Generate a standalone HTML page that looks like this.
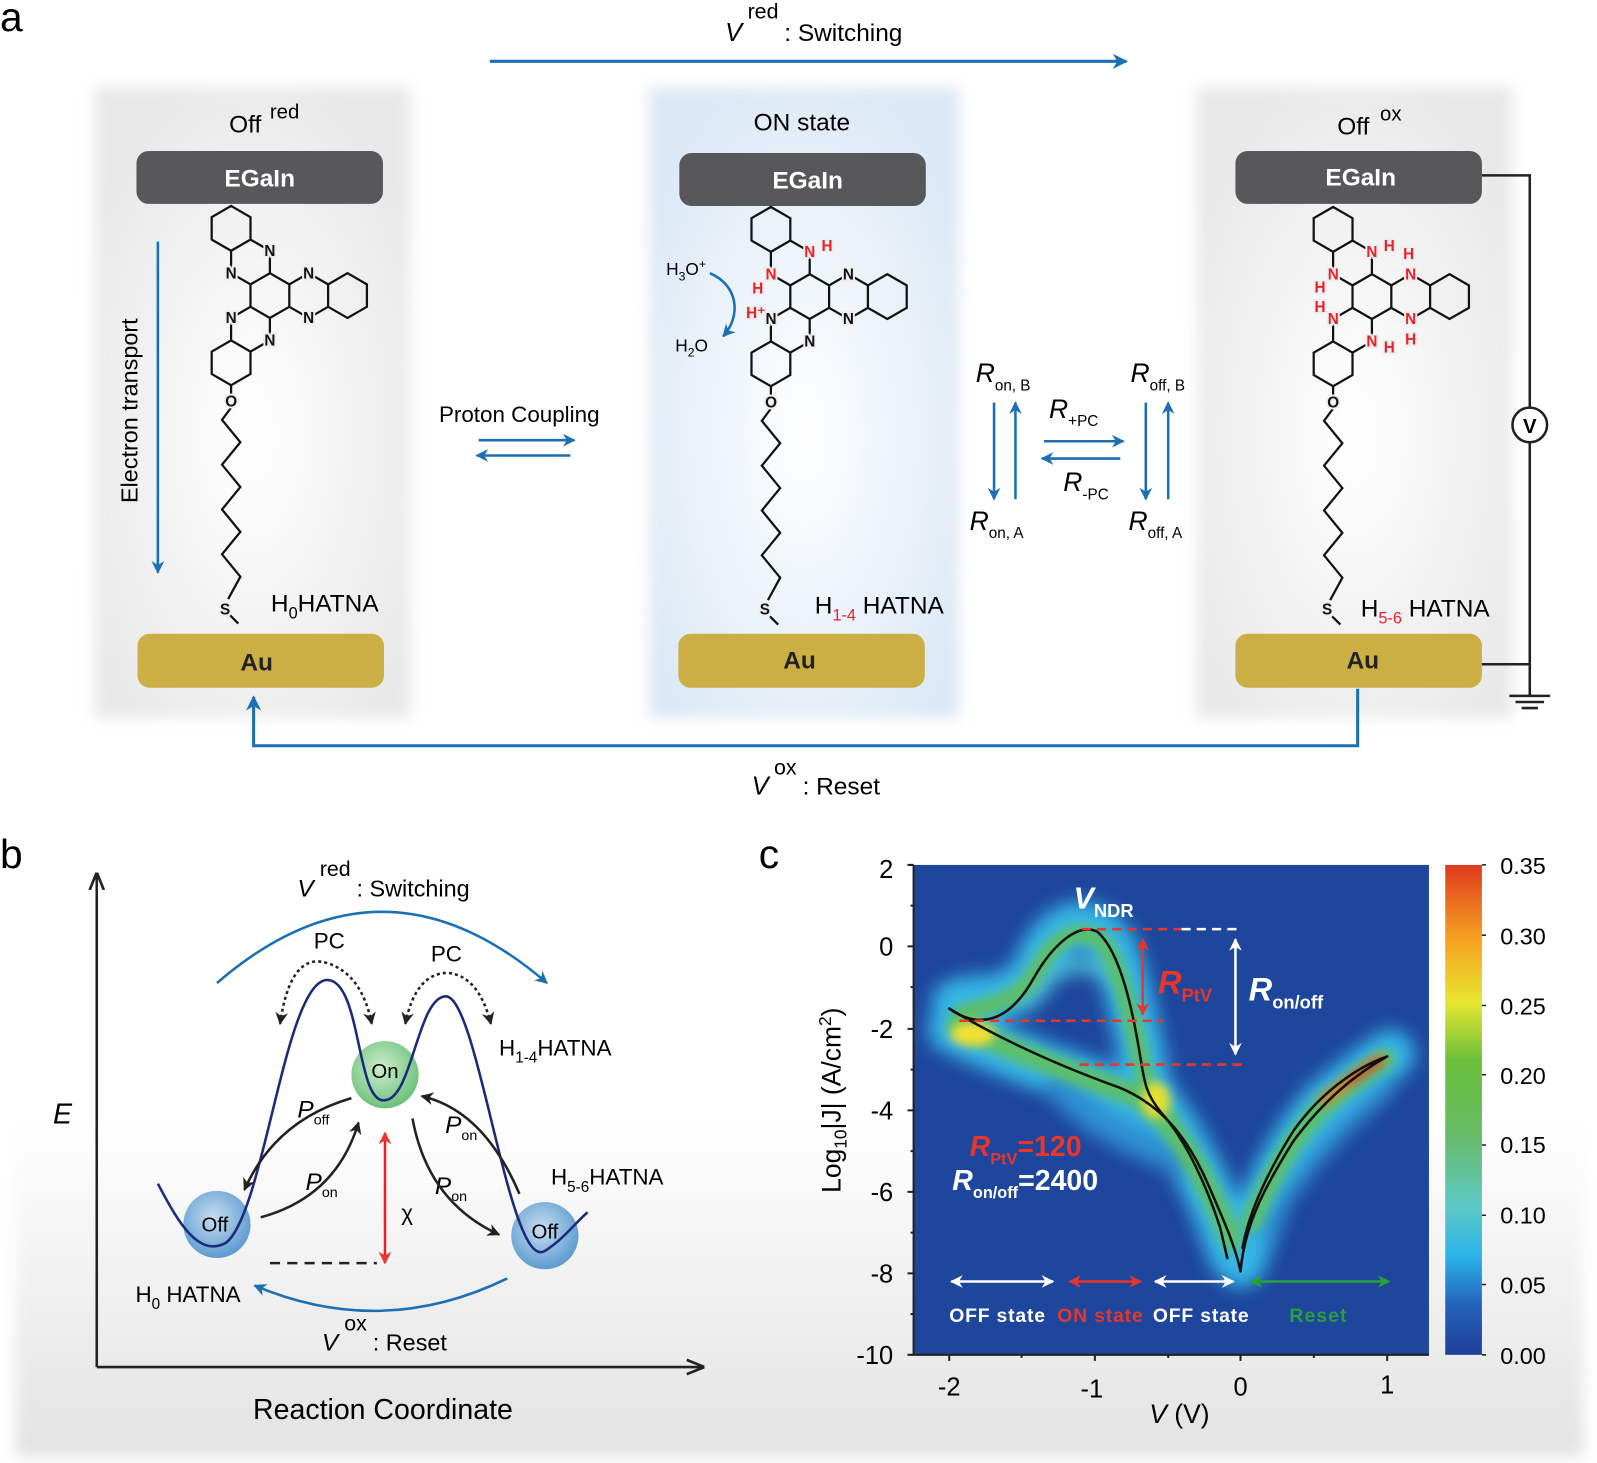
<!DOCTYPE html>
<html><head><meta charset="utf-8"><style>
html,body{margin:0;padding:0;background:#fff}
svg{display:block}
text{font-family:"Liberation Sans",Arial,sans-serif}
</style></head><body>
<svg width="1597" height="1463" viewBox="0 0 1568 1436" xmlns="http://www.w3.org/2000/svg">
<defs>
<filter id="soft" x="-10%" y="-10%" width="120%" height="120%"><feGaussianBlur stdDeviation="7"/></filter>
<filter id="hb" x="-20%" y="-20%" width="140%" height="140%"><feGaussianBlur stdDeviation="9"/></filter>
<filter id="hb2" x="-20%" y="-20%" width="140%" height="140%"><feGaussianBlur stdDeviation="5"/></filter>
<radialGradient id="gpan" cx="50%" cy="55%" r="60%"><stop offset="0" stop-color="#ffffff"/><stop offset="1" stop-color="#e8e8e8"/></radialGradient>
<radialGradient id="bpan" cx="50%" cy="55%" r="60%"><stop offset="0" stop-color="#ffffff"/><stop offset="1" stop-color="#dbe8f5"/></radialGradient>
<linearGradient id="bottomg" x1="0" y1="0" x2="0" y2="1"><stop offset="0" stop-color="#fff"/><stop offset="0.45" stop-color="#fff"/><stop offset="1" stop-color="#e2e2e2"/></linearGradient>
<linearGradient id="cbar" x1="0" y1="1" x2="0" y2="0">
<stop offset="0" stop-color="#1f3f99"/><stop offset="0.1" stop-color="#2462b8"/><stop offset="0.2" stop-color="#2ab3e8"/><stop offset="0.3" stop-color="#5cc8c8"/><stop offset="0.45" stop-color="#66bb66"/><stop offset="0.6" stop-color="#6abf3a"/><stop offset="0.72" stop-color="#e6e630"/><stop offset="0.85" stop-color="#f5a020"/><stop offset="1" stop-color="#e03a1e"/></linearGradient>
<radialGradient id="gOff" cx="45%" cy="40%" r="60%"><stop offset="0" stop-color="#c7ddf0"/><stop offset="1" stop-color="#5d9bd0"/></radialGradient>
<radialGradient id="gOn" cx="45%" cy="40%" r="60%"><stop offset="0" stop-color="#cdeccd"/><stop offset="1" stop-color="#6cc27a"/></radialGradient>
<marker id="ab" viewBox="0 0 10 10" refX="9" refY="5" markerWidth="5" markerHeight="5" orient="auto-start-reverse"><path d="M0,0 L10,5 L0,10 L3,5z" fill="#1a6fb5"/></marker>
<marker id="ak" viewBox="0 0 10 10" refX="9" refY="5" markerWidth="5" markerHeight="5" orient="auto-start-reverse"><path d="M0,0 L10,5 L0,10 L3,5z" fill="#222"/></marker>
<marker id="ar" viewBox="0 0 10 10" refX="9" refY="5" markerWidth="5" markerHeight="5" orient="auto-start-reverse"><path d="M0,0 L10,5 L0,10 L3,5z" fill="#e8362a"/></marker>
<marker id="aw" viewBox="0 0 10 10" refX="9" refY="5" markerWidth="5" markerHeight="5" orient="auto-start-reverse"><path d="M0,0 L10,5 L0,10 L3,5z" fill="#fff"/></marker>
<marker id="ag" viewBox="0 0 10 10" refX="9" refY="5" markerWidth="5" markerHeight="5" orient="auto-start-reverse"><path d="M0,0 L10,5 L0,10 L3,5z" fill="#2aa03a"/></marker>
<marker id="ax" viewBox="0 0 10 10" refX="9" refY="5" markerWidth="7" markerHeight="7" orient="auto"><path d="M0,1 L10,5 L0,9" fill="none" stroke="#222" stroke-width="1.5"/></marker>
</defs>

<rect x="15" y="820" width="1540" height="610" fill="url(#bottomg)" filter="url(#soft)"/>

<!-- PANEL A -->
<text x="0" y="30" font-size="40">a</text>
<text x="712" y="40" font-size="25" font-style="italic">V</text>
<text x="734" y="18" font-size="21">red</text>
<text x="770" y="40" font-size="24">: Switching</text>
<line x1="481" y1="60" x2="1106" y2="60" stroke="#1a6fb5" stroke-width="3" marker-end="url(#ab)"/>

<rect x="93" y="85" width="310" height="620" fill="url(#gpan)" filter="url(#soft)"/>
<rect x="637" y="85" width="305" height="620" fill="url(#bpan)" filter="url(#soft)"/>
<rect x="1175" y="85" width="310" height="620" fill="url(#gpan)" filter="url(#soft)"/>

<text x="225" y="130" font-size="24">Off</text><text x="265" y="116" font-size="20">red</text>
<text x="740" y="128" font-size="24">ON state</text>
<text x="1313" y="132" font-size="24">Off</text><text x="1355" y="118" font-size="20">ox</text>

<g font-weight="bold" font-size="24" text-anchor="middle">
<rect x="134" y="148" width="242" height="52" rx="12" fill="#58585a"/><text x="255" y="183" fill="#fff">EGaIn</text>
<rect x="667" y="150" width="242" height="52" rx="12" fill="#58585a"/><text x="793" y="185" fill="#fff">EGaIn</text>
<rect x="1213" y="148" width="242" height="52" rx="12" fill="#58585a"/><text x="1336" y="182" fill="#fff">EGaIn</text>
<rect x="135" y="622" width="242" height="53" rx="12" fill="#cbaf45"/><text x="252" y="658" fill="#222">Au</text>
<rect x="666" y="622" width="242" height="53" rx="12" fill="#cbaf45"/><text x="785" y="656" fill="#222">Au</text>
<rect x="1213" y="622" width="242" height="53" rx="12" fill="#cbaf45"/><text x="1338" y="656" fill="#222">Au</text>
</g>

<g transform="translate(265,290)" fill="none" stroke="#111" stroke-width="2.2">
<path d="M19.05,-11 L0,-22 L-19.05,-11 L-19.05,11 L0,22 L19.05,11Z M0,-44 L-19.05,-55 L-38.1,-44 L-38.1,-22 L-19.05,-11 L0,-22Z M-19.05,-77 L-38.1,-88 L-57.15,-77 L-57.15,-55 L-38.1,-44 L-19.05,-55Z M57.15,-11 L38.1,-22 L19.05,-11 L19.05,11 L38.1,22 L57.15,11Z M95.25,-11 L76.2,-22 L57.15,-11 L57.15,11 L76.2,22 L95.25,11Z M0,22 L-19.05,11 L-38.1,22 L-38.1,44 L-19.05,55 L0,44Z M-19.05,55 L-38.1,44 L-57.15,55 L-57.15,77 L-38.1,88 L-19.05,77Z M-38.1,88 L-38.1,98 M-38.1,110 L-47,122 L-29,144 L-47,166 L-29,188 L-47,210 L-29,232 L-47,254 L-29,276 L-41,298 M-39,314 L-31,322"/>
</g>
<g transform="translate(795,291)" fill="none" stroke="#111" stroke-width="2.2">
<path d="M19.05,-11 L0,-22 L-19.05,-11 L-19.05,11 L0,22 L19.05,11Z M0,-44 L-19.05,-55 L-38.1,-44 L-38.1,-22 L-19.05,-11 L0,-22Z M-19.05,-77 L-38.1,-88 L-57.15,-77 L-57.15,-55 L-38.1,-44 L-19.05,-55Z M57.15,-11 L38.1,-22 L19.05,-11 L19.05,11 L38.1,22 L57.15,11Z M95.25,-11 L76.2,-22 L57.15,-11 L57.15,11 L76.2,22 L95.25,11Z M0,22 L-19.05,11 L-38.1,22 L-38.1,44 L-19.05,55 L0,44Z M-19.05,55 L-38.1,44 L-57.15,55 L-57.15,77 L-38.1,88 L-19.05,77Z M-38.1,88 L-38.1,98 M-38.1,110 L-47,122 L-29,144 L-47,166 L-29,188 L-47,210 L-29,232 L-47,254 L-29,276 L-41,298 M-39,314 L-31,322"/>
</g>
<g transform="translate(1347,291)" fill="none" stroke="#111" stroke-width="2.2">
<path d="M19.05,-11 L0,-22 L-19.05,-11 L-19.05,11 L0,22 L19.05,11Z M0,-44 L-19.05,-55 L-38.1,-44 L-38.1,-22 L-19.05,-11 L0,-22Z M-19.05,-77 L-38.1,-88 L-57.15,-77 L-57.15,-55 L-38.1,-44 L-19.05,-55Z M57.15,-11 L38.1,-22 L19.05,-11 L19.05,11 L38.1,22 L57.15,11Z M95.25,-11 L76.2,-22 L57.15,-11 L57.15,11 L76.2,22 L95.25,11Z M0,22 L-19.05,11 L-38.1,22 L-38.1,44 L-19.05,55 L0,44Z M-19.05,55 L-38.1,44 L-57.15,55 L-57.15,77 L-38.1,88 L-19.05,77Z M-38.1,88 L-38.1,98 M-38.1,110 L-47,122 L-29,144 L-47,166 L-29,188 L-47,210 L-29,232 L-47,254 L-29,276 L-41,298 M-39,314 L-31,322"/>
</g>
<g font-size="15" font-weight="bold" text-anchor="middle" stroke="#eee" stroke-width="4" paint-order="stroke">
<text x="265" y="251" fill="#111">N</text><text x="227" y="273" fill="#111">N</text>
<text x="303" y="273" fill="#111">N</text><text x="303" y="317" fill="#111">N</text>
<text x="227" y="317" fill="#111">N</text><text x="265" y="339" fill="#111">N</text>
<text x="227" y="399" fill="#111">O</text><text x="221" y="603" fill="#111">S</text>

<text x="795" y="252" fill="#e8222a">N</text><text x="812" y="246" fill="#e8222a">H</text>
<text x="757" y="274" fill="#e8222a">N</text><text x="744" y="288" fill="#e8222a">H</text>
<text x="833" y="274" fill="#111">N</text><text x="833" y="318" fill="#111">N</text>
<text x="757" y="318" fill="#111">N</text><text x="742" y="312" fill="#e8222a">H⁺</text>
<text x="795" y="340" fill="#111">N</text>
<text x="757" y="400" fill="#111">O</text><text x="751" y="603" fill="#111">S</text>

<text x="1347" y="252" fill="#e8222a">N</text><text x="1364" y="246" fill="#e8222a">H</text>
<text x="1309" y="274" fill="#e8222a">N</text><text x="1296" y="287" fill="#e8222a">H</text>
<text x="1385" y="274" fill="#e8222a">N</text><text x="1383" y="254" fill="#e8222a">H</text>
<text x="1385" y="318" fill="#e8222a">N</text><text x="1385" y="338" fill="#e8222a">H</text>
<text x="1309" y="318" fill="#e8222a">N</text><text x="1296" y="306" fill="#e8222a">H</text>
<text x="1347" y="340" fill="#e8222a">N</text><text x="1364" y="346" fill="#e8222a">H</text>
<text x="1309" y="400" fill="#111">O</text><text x="1303" y="603" fill="#111">S</text>
</g>

<text x="135" y="403" font-size="23" text-anchor="middle" transform="rotate(-90 135 403)">Electron transport</text>
<line x1="155" y1="237" x2="155" y2="562" stroke="#1a6fb5" stroke-width="2.5" marker-end="url(#ab)"/>
<text x="266" y="600" font-size="24">H<tspan font-size="16" dy="7">0</tspan><tspan dy="-7">HATNA</tspan></text>
<text x="800" y="602" font-size="24">H<tspan font-size="16" dy="7" fill="#e8222a">1-4</tspan><tspan dy="-7"> HATNA</tspan></text>
<text x="1336" y="605" font-size="24">H<tspan font-size="16" dy="7" fill="#e8222a">5-6</tspan><tspan dy="-7"> HATNA</tspan></text>

<text x="431" y="414" font-size="22">Proton Coupling</text>
<line x1="470" y1="432" x2="564" y2="432" stroke="#1a6fb5" stroke-width="2.5" marker-end="url(#ab)"/>
<line x1="560" y1="447" x2="468" y2="447" stroke="#1a6fb5" stroke-width="2.5" marker-end="url(#ab)"/>

<text x="654" y="270" font-size="17">H<tspan font-size="12" dy="5">3</tspan><tspan dy="-5">O</tspan><tspan font-size="12" dy="-7">+</tspan></text>
<text x="663" y="345" font-size="17">H<tspan font-size="12" dy="5">2</tspan><tspan dy="-5">O</tspan></text>
<path d="M697,268 C725,280 728,310 710,330" fill="none" stroke="#1a6fb5" stroke-width="2.5" marker-end="url(#ab)"/>

<g font-size="26" font-style="italic">
<text x="958" y="375">R<tspan font-size="15" font-style="normal" dy="8">on, B</tspan></text>
<text x="952" y="520">R<tspan font-size="15" font-style="normal" dy="8">on, A</tspan></text>
<text x="1110" y="375">R<tspan font-size="15" font-style="normal" dy="8">off, B</tspan></text>
<text x="1108" y="520">R<tspan font-size="15" font-style="normal" dy="8">off, A</tspan></text>
<text x="1030" y="410">R<tspan font-size="15" font-style="normal" dy="8">+PC</tspan></text>
<text x="1044" y="482">R<tspan font-size="15" font-style="normal" dy="8">-PC</tspan></text>
</g>
<g stroke="#1a6fb5" stroke-width="2.5">
<line x1="976" y1="395" x2="976" y2="490" marker-end="url(#ab)"/>
<line x1="997" y1="490" x2="997" y2="395" marker-end="url(#ab)"/>
<line x1="1125" y1="395" x2="1125" y2="490" marker-end="url(#ab)"/>
<line x1="1147" y1="490" x2="1147" y2="395" marker-end="url(#ab)"/>
<line x1="1025" y1="433" x2="1103" y2="433" marker-end="url(#ab)"/>
<line x1="1100" y1="450" x2="1023" y2="450" marker-end="url(#ab)"/>
</g>

<path d="M1455,172 H1502 V652 H1455" fill="none" stroke="#222" stroke-width="2.5"/>
<circle cx="1502" cy="417" r="17" fill="#fff" stroke="#222" stroke-width="2.5"/>
<text x="1502" y="425" font-size="20" font-weight="bold" text-anchor="middle">V</text>
<path d="M1502,652 V683 M1482,683 H1522 M1488,689 H1516 M1494,695 H1510" stroke="#222" stroke-width="2.5" fill="none"/>

<path d="M1333,676 V732 H249 V684" fill="none" stroke="#1a6fb5" stroke-width="3" marker-end="url(#ab)"/>
<text x="738" y="780" font-size="25" font-style="italic">V</text>
<text x="760" y="760" font-size="21">ox</text>
<text x="788" y="780" font-size="24">: Reset</text>

<!-- PANEL B -->
<text x="0" y="852" font-size="40">b</text>
<path d="M95,1342 V858" stroke="#222" stroke-width="2.5" marker-end="url(#ax)"/>
<path d="M95,1342 H690" stroke="#222" stroke-width="2.5" marker-end="url(#ax)"/>
<text x="52" y="1103" font-size="28" font-style="italic">E</text>
<text x="376" y="1393" font-size="28" text-anchor="middle">Reaction Coordinate</text>

<path d="M213,965 Q375,825 537,965" fill="none" stroke="#1a6fb5" stroke-width="2.5" marker-end="url(#ab)"/>
<path d="M498,1255 Q375,1315 250,1262" fill="none" stroke="#1a6fb5" stroke-width="2.5" marker-end="url(#ab)"/>
<text x="292" y="880" font-size="24" font-style="italic">V</text><text x="314" y="860" font-size="21">red</text><text x="350" y="880" font-size="23">: Switching</text>
<text x="316" y="1326" font-size="24" font-style="italic">V</text><text x="338" y="1306" font-size="21">ox</text><text x="366" y="1326" font-size="23">: Reset</text>
<text x="308" y="931" font-size="22">PC</text><text x="423" y="944" font-size="22">PC</text>
<g fill="none" stroke="#222" stroke-width="2.5" stroke-dasharray="3,3">
<path d="M275,1005 Q285,935 320,945 Q355,955 365,1005" marker-end="url(#ak)" marker-start="url(#ak)"/>
<path d="M398,1005 Q408,955 440,955 Q470,958 482,1005" marker-end="url(#ak)" marker-start="url(#ak)"/>
</g>

<circle cx="213" cy="1202" r="33" fill="url(#gOff)"/>
<circle cx="378" cy="1055" r="33" fill="url(#gOn)"/>
<circle cx="535" cy="1213" r="33" fill="url(#gOff)"/>
<path d="M155,1162 C175,1200 195,1235 222,1220 C260,1190 280,960 322,962 C355,964 350,1085 378,1080 C405,1078 410,978 438,978 C470,980 500,1250 535,1228 C555,1215 565,1200 577,1190" fill="none" stroke="#1c2a7a" stroke-width="2.5"/>
<g font-size="20" text-anchor="middle"><text x="211" y="1209">Off</text><text x="378" y="1058">On</text><text x="535" y="1216">Off</text></g>

<text x="490" y="1036" font-size="22">H<tspan font-size="15" dy="7">1-4</tspan><tspan dy="-7">HATNA</tspan></text>
<text x="541" y="1163" font-size="22">H<tspan font-size="15" dy="7">5-6</tspan><tspan dy="-7">HATNA</tspan></text>
<text x="133" y="1278" font-size="22">H<tspan font-size="15" dy="7">0</tspan><tspan dy="-7"> HATNA</tspan></text>
<g font-size="24" font-style="italic">
<text x="292" y="1097">P<tspan font-size="14" font-style="normal" dy="7">off</tspan></text>
<text x="300" y="1168">P<tspan font-size="14" font-style="normal" dy="7">on</tspan></text>
<text x="437" y="1112">P<tspan font-size="14" font-style="normal" dy="7">on</tspan></text>
<text x="427" y="1172">P<tspan font-size="14" font-style="normal" dy="7">on</tspan></text>
</g>
<text x="394" y="1198" font-size="22">χ</text>
<g fill="none" stroke="#222" stroke-width="2.5">
<path d="M345,1078 Q270,1100 240,1168" marker-end="url(#ak)"/>
<path d="M256,1195 Q330,1175 352,1102" marker-end="url(#ak)"/>
<path d="M510,1172 Q475,1090 414,1076" marker-end="url(#ak)"/>
<path d="M405,1098 Q420,1180 490,1212" marker-end="url(#ak)"/>
</g>
<line x1="265" y1="1240" x2="370" y2="1240" stroke="#222" stroke-width="2.5" stroke-dasharray="10,7"/>
<line x1="378" y1="1112" x2="378" y2="1240" stroke="#e8222a" stroke-width="2.5" marker-start="url(#ar)" marker-end="url(#ar)"/>

<!-- PANEL C -->
<text x="745" y="852" font-size="40">c</text>
<rect x="897" y="849" width="506" height="481" fill="#1e469c"/>
<svg x="897" y="849" width="506" height="481" viewBox="897 849 506 481" overflow="hidden">
<g fill="none" stroke-linecap="round" stroke-linejoin="round">
<g filter="url(#hb)" stroke="#36b6e6">
<path d="M938,985 C960,975 990,990 1015,955 C1035,905 1065,895 1090,925 C1110,960 1120,1040 1130,1075 C1160,1110 1190,1170 1215,1235" stroke-width="46"/>
<path d="M935,1010 C1000,1040 1060,1060 1120,1080 C1160,1110 1185,1160 1210,1230" stroke-width="48"/>
<path d="M1218,1240 C1235,1190 1260,1130 1300,1085 C1330,1060 1350,1045 1365,1035" stroke-width="48"/>
<path d="M1010,985 C1030,950 1060,935 1090,960" stroke-width="14" stroke="#4cc0d8"/>
<path d="M1040,1065 C1080,1110 1120,1120 1160,1140" stroke-width="30" stroke="#2f8fd0"/>
<path d="M1240,1210 C1270,1160 1300,1120 1360,1070" stroke-width="16" stroke="#2f8fd0"/>
</g>
<g filter="url(#hb2)" stroke="#5cbf6a">
<path d="M945,995 C975,985 995,985 1015,958 C1035,918 1062,905 1085,928 C1105,960 1118,1030 1128,1075 C1160,1110 1185,1160 1210,1220" stroke-width="18"/>
<path d="M940,1005 C1000,1035 1060,1055 1120,1078 C1160,1110 1185,1160 1208,1215" stroke-width="22"/>
<path d="M1228,1200 C1250,1150 1270,1115 1300,1085 C1330,1060 1348,1048 1360,1040" stroke-width="20"/>
</g>
<g filter="url(#hb2)">
<ellipse cx="955" cy="1015" rx="22" ry="12" fill="#f2e030" stroke="none"/>
<ellipse cx="1135" cy="1080" rx="14" ry="18" fill="#e6e030" stroke="none"/>
<path d="M1300,1080 C1320,1065 1335,1052 1355,1040" stroke="#f07a20" stroke-width="10"/>
<path d="M1325,1062 C1335,1055 1345,1048 1355,1042" stroke="#e02a1a" stroke-width="6"/>
</g>
<path d="M932,990 C960,1010 990,1005 1015,960 C1035,925 1060,905 1078,915 C1100,935 1112,990 1120,1040 C1124,1065 1126,1075 1140,1092 C1165,1120 1185,1165 1198,1205 L1205,1235" stroke="#111" stroke-width="2.5"/>
<path d="M932,990 C990,1025 1050,1050 1100,1068 C1140,1085 1165,1115 1185,1160 C1200,1195 1212,1220 1218,1248" stroke="#111" stroke-width="2.5"/>
<path d="M1218,1248 C1222,1200 1245,1160 1270,1120 C1300,1080 1330,1055 1362,1037 C1330,1048 1295,1075 1270,1110 C1245,1150 1226,1190 1220,1225" stroke="#111" stroke-width="2.5"/>
</g>
</svg>
<g stroke-width="2.5" stroke-dasharray="9,6" fill="none">
<line x1="1062" y1="912" x2="1160" y2="912" stroke="#e8362a"/>
<line x1="1160" y1="912" x2="1220" y2="912" stroke="#fff"/>
<line x1="942" y1="1002" x2="1142" y2="1002" stroke="#e8362a"/>
<line x1="1060" y1="1045" x2="1222" y2="1045" stroke="#e8362a"/>
</g>
<line x1="1122" y1="922" x2="1122" y2="996" stroke="#e8362a" stroke-width="2.5" marker-start="url(#ar)" marker-end="url(#ar)"/>
<line x1="1213" y1="922" x2="1213" y2="1035" stroke="#fff" stroke-width="2.5" marker-start="url(#aw)" marker-end="url(#aw)"/>
<text x="1054" y="892" font-size="30" font-style="italic" font-weight="bold" fill="#fff">V<tspan font-size="18" font-style="normal" dy="8">NDR</tspan></text>
<text x="1137" y="975" font-size="32" font-style="italic" font-weight="bold" fill="#e8362a">R<tspan font-size="18" font-style="normal" dy="8">PtV</tspan></text>
<text x="1226" y="982" font-size="32" font-style="italic" font-weight="bold" fill="#fff">R<tspan font-size="18" font-style="normal" dy="8">on/off</tspan></text>
<text x="952" y="1135" font-size="28" font-style="italic" font-weight="bold" fill="#e8362a">R<tspan font-size="16" font-style="normal" dy="8">PtV</tspan><tspan font-style="normal" dy="-8">=120</tspan></text>
<text x="935" y="1168" font-size="28" font-style="italic" font-weight="bold" fill="#fff">R<tspan font-size="16" font-style="normal" dy="8">on/off</tspan><tspan font-style="normal" dy="-8">=2400</tspan></text>
<g stroke-width="2.5">
<line x1="934" y1="1258" x2="1034" y2="1258" stroke="#fff" marker-start="url(#aw)" marker-end="url(#aw)"/>
<line x1="1050" y1="1258" x2="1120" y2="1258" stroke="#e8362a" marker-start="url(#ar)" marker-end="url(#ar)"/>
<line x1="1134" y1="1258" x2="1211" y2="1258" stroke="#fff" marker-start="url(#aw)" marker-end="url(#aw)"/>
<line x1="1228" y1="1258" x2="1364" y2="1258" stroke="#2aa03a" marker-start="url(#ag)" marker-end="url(#ag)"/>
</g>
<g font-size="19" font-weight="bold">
<text x="932" y="1298" fill="#fff" textLength="94">OFF state</text>
<text x="1038" y="1298" fill="#e8362a" textLength="84">ON state</text>
<text x="1132" y="1298" fill="#fff" textLength="94">OFF state</text>
<text x="1266" y="1298" fill="#2aa03a" textLength="56">Reset</text>
</g>
<g stroke="#222" stroke-width="2">
<line x1="897" y1="849" x2="897" y2="1330"/><line x1="897" y1="1330" x2="1403" y2="1330"/>
<path d="M897,849 h-6 M897,929 h-6 M897,1010 h-6 M897,1090 h-6 M897,1170 h-6 M897,1250 h-6 M897,1330 h-6 M897,889 h-3 M897,969 h-3 M897,1050 h-3 M897,1130 h-3 M897,1210 h-3 M897,1290 h-3"/>
<path d="M932,1330 v6 M1075,1330 v6 M1218,1330 v6 M1362,1330 v6 M1003,1330 v3 M1147,1330 v3 M1290,1330 v3"/>
</g>
<g font-size="25" text-anchor="end">
<text x="877" y="862">2</text><text x="877" y="938">0</text><text x="877" y="1019">-2</text><text x="877" y="1099">-4</text><text x="877" y="1179">-6</text><text x="877" y="1259">-8</text><text x="877" y="1339">-10</text>
</g>
<g font-size="25" text-anchor="middle">
<text x="932" y="1370">-2</text><text x="1072" y="1372">-1</text><text x="1218" y="1370">0</text><text x="1362" y="1368">1</text>
</g>
<text x="1158" y="1397" font-size="26" text-anchor="middle"><tspan font-style="italic">V</tspan> (V)</text>
<text x="825" y="1080" font-size="26" text-anchor="middle" transform="rotate(-90 825 1080)">Log<tspan font-size="17" dy="6">10</tspan><tspan dy="-6">|J| (A/cm</tspan><tspan font-size="17" dy="-9">2</tspan><tspan dy="9">)</tspan></text>

<rect x="1419" y="849" width="36" height="481" fill="url(#cbar)"/>
<g stroke="#222" stroke-width="1.5"><path d="M1455,849 h4 M1455,918 h4 M1455,987 h4 M1455,1055 h4 M1455,1124 h4 M1455,1193 h4 M1455,1261 h4 M1455,1330 h4"/></g>
<g font-size="23">
<text x="1473" y="858">0.35</text><text x="1473" y="927">0.30</text><text x="1473" y="996">0.25</text><text x="1473" y="1064">0.20</text><text x="1473" y="1132">0.15</text><text x="1473" y="1201">0.10</text><text x="1473" y="1270">0.05</text><text x="1473" y="1339">0.00</text>
</g>
</svg>
</body></html>
